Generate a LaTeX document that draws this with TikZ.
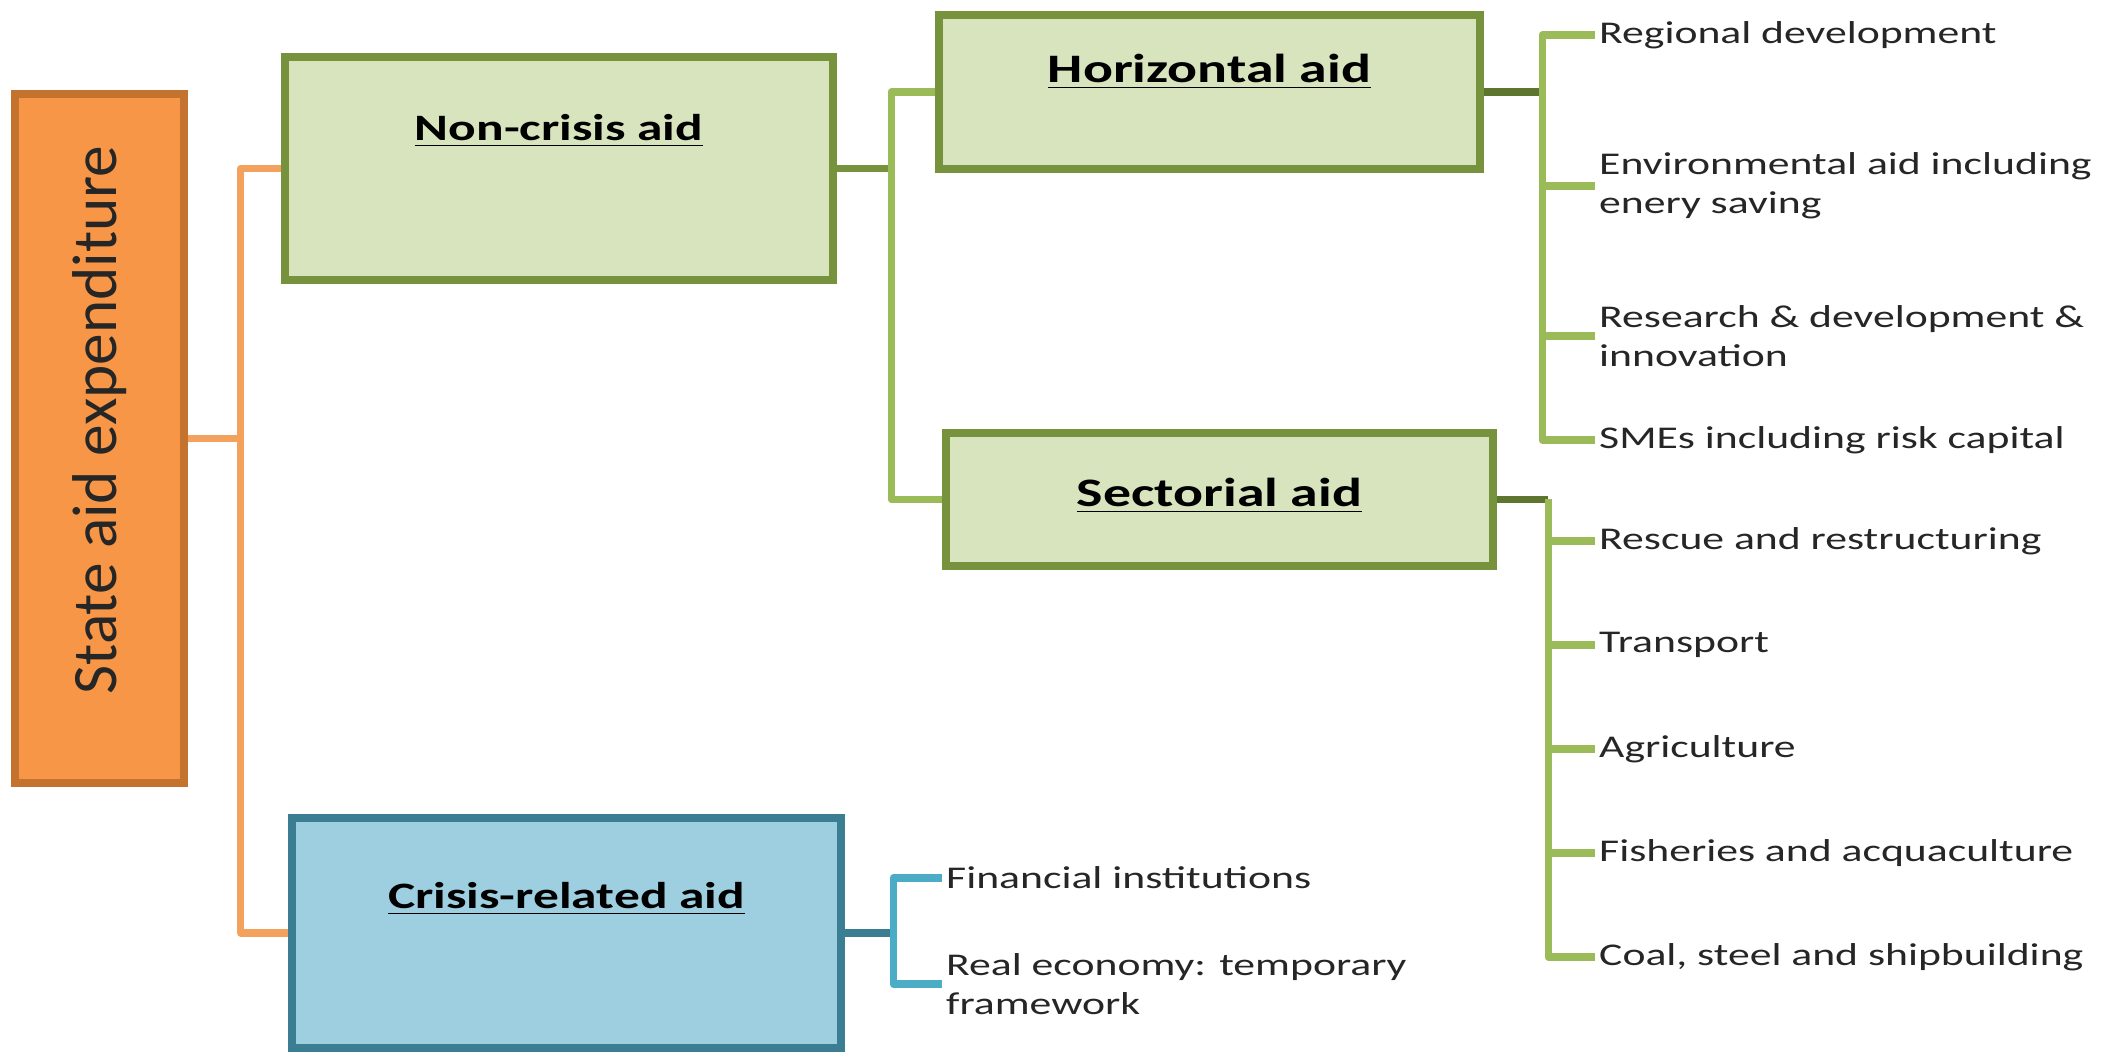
\documentclass[tikz,border=0pt]{standalone}
\usepackage{fontspec}
\setmainfont{Carlito}[FakeStretch=1.38]
\newfontfamily\stateFont{Carlito}
\usepackage{tikz}
\usetikzlibrary{positioning}

\definecolor{aidOrange}{HTML}{F79646}
\definecolor{aidOrangeDark}{HTML}{C4732F}
\definecolor{aidOrangeLine}{HTML}{F5A15E}
\definecolor{aidGreen}{HTML}{D7E4BD}
\definecolor{aidGreenDark}{HTML}{76923C}
\definecolor{aidGreenLine}{HTML}{9BBB59}
\definecolor{aidGreenStub}{HTML}{5E7530}
\definecolor{aidBlue}{HTML}{9DCFE1}
\definecolor{aidBlueDark}{HTML}{3B7D92}
\definecolor{aidBlueLine}{HTML}{4BACC6}
\definecolor{aidText}{HTML}{262626}

\begin{document}
\begin{tikzpicture}[x=0.01cm,y=-0.01cm,every text node part/.style={align=left}]
\tikzset{myItem/.style={anchor=west,inner sep=1pt,text=aidText,font=\fontsize{9}{11}\selectfont}}
\tikzset{myBox/.style={draw,line width=2.2pt,inner sep=0pt}}
\tikzset{myGreen/.style={myBox,fill=aidGreen,draw=aidGreenDark}}
\tikzset{myBlue/.style={myBox,fill=aidBlue,draw=aidBlueDark}}
\tikzset{myTitle/.style={anchor=base,font=\bfseries\fontsize{11.5}{14}\selectfont}}
\tikzset{mySmallTitle/.style={anchor=base,font=\bfseries\fontsize{10.6}{13}\selectfont}}
\tikzset{myLine/.style={line width=2pt,line join=round}}

\useasboundingbox (0,0) rectangle (2126,1052);

\node[myBox,draw=aidOrangeDark,fill=aidOrange,minimum width=1.69cm,minimum height=6.89cm] (state) at (99.5,438.5) {};
\node[rotate=90,text=aidText,font=\stateFont\fontsize{18}{20}\selectfont] (stateTxt) at (100,420) {State aid expenditure};

\node[myGreen,minimum width=5.48cm,minimum height=2.23cm] (noncrisis) at (559,168.5) {};
\node[mySmallTitle] (noncrisisTxt) at ([yshift=-0.87cm]noncrisis.north) {\underline{Non-crisis aid}};

\node[myBlue,minimum width=5.49cm,minimum height=2.30cm] (crisis) at (566.5,933) {};
\node[mySmallTitle] (crisisTxt) at ([yshift=-0.94cm]crisis.north) {\underline{Crisis-related aid}};

\node[myGreen,minimum width=5.41cm,minimum height=1.54cm] (horizontal) at (1209.5,92) {};
\node[myTitle] (horizontalTxt) at ([yshift=-0.71cm]horizontal.north) {\underline{Horizontal aid}};

\node[myGreen,minimum width=5.47cm,minimum height=1.33cm] (sectorial) at (1219.5,499.5) {};
\node[myTitle] (sectorialTxt) at ([yshift=-0.77cm]sectorial.north) {\underline{Sectorial aid}};

% horizontal aid items
\node[myItem] (regional) at (1595,35) {Regional development};
\node[myItem] (environ) at (1595,186) {Environmental aid including\\enery saving};
\node[myItem] (research) at (1595,336) {Research \& development \&\\innovation};
\node[myItem] (smes) at (1595,440) {SMEs including risk capital};

% sectorial aid items
\foreach \name/\txt [count=\i] in {rescue/Rescue and restructuring,transport/Transport,agri/Agriculture,fish/Fisheries and acquaculture,coal/{Coal, steel and shipbuilding}}
  \node[myItem] (\name) at (1595,{437+104*\i}) {\txt};

% crisis items
\node[myItem] (financial) at (942,878) {Financial institutions};
\node[myItem] (realEconomy) at (942,984) {Real economy: temporary\\framework};

% connectors
\draw[myLine,draw=aidOrangeLine] (state.east) -- ++(53,0) coordinate (stateJoin);
\draw[myLine,draw=aidOrangeLine] (noncrisis.west) -| (stateJoin) |- (crisis.west);

\draw[myLine,draw=aidGreenDark] (noncrisis.east) -- ++(54,0) coordinate (ncJoin);
\draw[myLine,draw=aidGreenLine] (horizontal.west) -| (ncJoin) |- (sectorial.west);

\draw[myLine,draw=aidGreenStub] (horizontal.east) -- ++(58,0) coordinate (horJoin);
\foreach \n in {regional,environ,research,smes}
  \draw[myLine,draw=aidGreenLine] (horJoin) |- (\n.west);

\draw[myLine,draw=aidGreenStub] (sectorial.east) -- ++(51,0) coordinate (secJoin);
\foreach \n in {rescue,transport,agri,fish,coal}
  \draw[myLine,draw=aidGreenLine] (secJoin) |- (\n.west);

\draw[myLine,draw=aidBlueDark] (crisis.east) -- ++(48,0) coordinate (crJoin);
\foreach \n in {financial,realEconomy}
  \draw[myLine,draw=aidBlueLine] (crJoin) |- (\n.west);

\end{tikzpicture}
\end{document}
